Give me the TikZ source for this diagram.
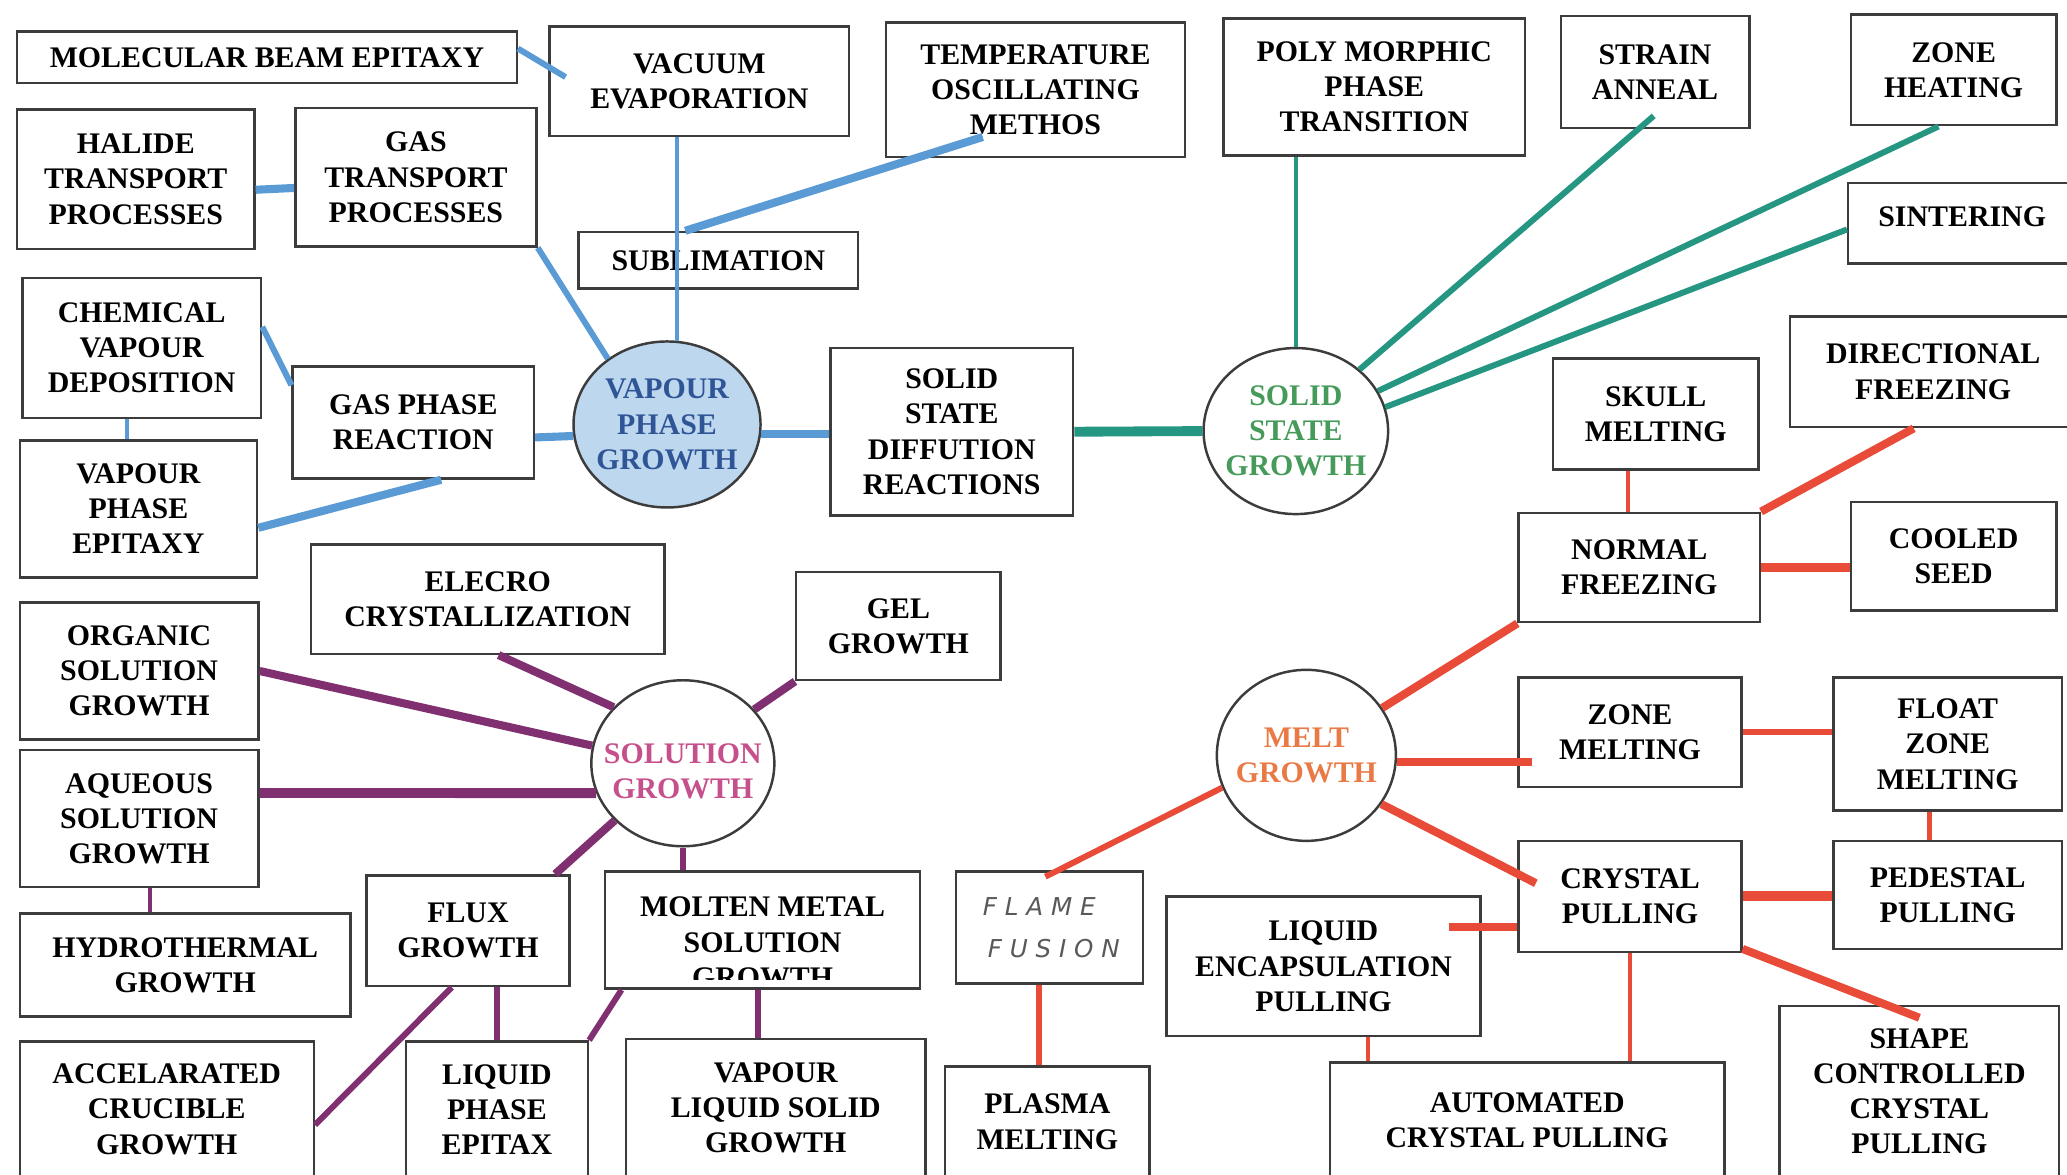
\documentclass[tikz,border=0pt]{standalone}
\usepackage{fontspec}
\setmainfont{Liberation Serif}
\newfontfamily\handfont{DejaVu Sans}
\usetikzlibrary{shapes.geometric,calc}

\definecolor{vapblue}{RGB}{91,155,213}
\definecolor{vapfill}{RGB}{189,215,238}
\definecolor{vaptext}{RGB}{47,85,151}
\definecolor{solidteal}{RGB}{36,150,130}
\definecolor{solidtext}{RGB}{70,155,90}
\definecolor{meltred}{RGB}{232,75,55}
\definecolor{melttext}{RGB}{233,122,69}
\definecolor{solnpurple}{RGB}{128,48,112}
\definecolor{solntext}{RGB}{197,80,140}
\definecolor{boxline}{RGB}{60,60,60}

\begin{document}
\begin{tikzpicture}[
                x=0.1318mm, y=-0.1318mm,
                every node/.style={font=\fontsize{8.5}{10}\selectfont\bfseries, align=center, inner sep=0pt},
                box/.style 2 args={draw=boxline, line width=0.7pt, minimum width=#1*0.1318mm, minimum height=#2*0.1318mm},
                hub/.style={ellipse, draw=boxline, line width=0.7pt},
                thinlink/.style={line width=1.2pt},
                medlink/.style={line width=1.7pt},
                boldlink/.style={line width=2.3pt},
                heavylink/.style={line width=2.8pt}
            ]
            \useasboundingbox (0,0) rectangle (1568,891);

            % vapour phase growth
            \node[box={379}{39}] (mbe) at (202.5,43.5) {MOLECULAR BEAM EPITAXY};
            \node[box={227}{83}] (vacevap) at (530.5,61.5) {VACUUM\\EVAPORATION};
            \node[box={227}{102}] (temposc) at (785.5,68) {TEMPERATURE\\OSCILLATING\\METHOS};
            \node[box={180}{106}] (halide) at (103,136) {HALIDE\\TRANSPORT\\PROCESSES};
            \node[box={183}{105}] (gastrans) at (315.5,134.5) {GAS\\TRANSPORT\\PROCESSES};
            \node[box={212}{43}] (sublim) at (545,197.5) {SUBLIMATION};
            \node[box={181}{106}] (cvd) at (107.5,264) {CHEMICAL\\VAPOUR\\DEPOSITION};
            \node[box={183}{85}] (gasphase) at (313.5,320.5) {GAS PHASE\\REACTION};
            \node[box={180}{104}] (vpe) at (105,386) {VAPOUR\\PHASE\\EPITAXY};
            \node[hub, fill=vapfill, minimum width=18.7mm, minimum height=16.6mm] (vpg) at (506,322) {};
            \node[text=vaptext] (vpgtext) at (vpg) {VAPOUR\\PHASE\\GROWTH};

            % solid state growth
            \node[box={184}{127}] (ssdr) at (722,327.5) {SOLID\\STATE\\DIFFUTION\\REACTIONS};
            \node[hub, minimum width=18.45mm, minimum height=16.6mm] (ssg) at (983,327) {};
            \node[text=solidtext] (ssgtext) at (ssg) {SOLID\\STATE\\GROWTH};
            \node[box={229}{104}] (poly) at (1042.5,66) {POLY MORPHIC\\PHASE\\TRANSITION};
            \node[box={143}{85}] (strain) at (1255.5,54.5) {STRAIN\\ANNEAL};
            \node[box={156}{84}] (zoneheat) at (1482,53) {ZONE\\HEATING};
            \node[box={173}{61}, text depth=3.8pt] (sinter) at (1488.5,169.5) {SINTERING};

            % melt growth
            \node[box={217}{84}] (dirfreeze) at (1466.5,282) {DIRECTIONAL\\FREEZING};
            \node[box={156}{84}] (skull) at (1256,314) {SKULL\\MELTING};
            \node[box={183}{83}] (normfreeze) at (1243.5,430.5) {NORMAL\\FREEZING};
            \node[box={156}{82}] (cooled) at (1482,422) {COOLED\\SEED};
            \node[hub, minimum width=17.9mm, minimum height=17.1mm] (mg) at (991,573) {};
            \node[text=melttext] (mgtext) at (mg) {MELT\\GROWTH};
            \node[box={169}{83}] (zonemelt) at (1236.5,555.5) {ZONE\\MELTING};
            \node[box={173}{101}] (floatzone) at (1477.5,564.5) {FLOAT\\ZONE\\MELTING};
            \node[box={169}{84}] (crystpull) at (1236.5,680) {CRYSTAL\\PULLING};
            \node[box={173}{82}] (pedestal) at (1477.5,679) {PEDESTAL\\PULLING};
            \node[box={142}{85}, font=\handfont\itshape\fontsize{7}{12}\selectfont, text=black!65] (flame) at (796,703.5)
                {F L A M E\hspace*{2mm}\\\hspace*{0.9mm}F U S I O N};
            \node[box={238}{106}] (lep) at (1004,733) {LIQUID\\ENCAPSULATION\\PULLING};
            \node[box={155}{84}] (plasma) at (794.5,851) {PLASMA\\MELTING};
            \node[box={299}{87}] (autocp) at (1158.5,849.5) {AUTOMATED\\CRYSTAL PULLING};
            \node[box={212}{130}] (shapecp) at (1456,828) {SHAPE\\CONTROLLED\\CRYSTAL\\PULLING};

            % solution growth
            \node[box={268}{83}] (electro) at (370,454.5) {ELECRO\\CRYSTALLIZATION};
            \node[box={155}{82}] (gel) at (681.5,475) {GEL\\GROWTH};
            \node[box={181}{104}] (organic) at (105.5,509) {ORGANIC\\SOLUTION\\GROWTH};
            \node[hub, minimum width=18.3mm, minimum height=16.6mm] (sg) at (518,579) {};
            \node[text=solntext] (sgtext) at (518,585) {SOLUTION\\GROWTH};
            \node[box={181}{104}] (aqueous) at (105.5,621) {AQUEOUS\\SOLUTION\\GROWTH};
            \node[box={251}{78}] (hydro) at (140.5,732) {HYDROTHERMAL\\GROWTH};
            \node[box={154}{84}] (flux) at (355,706) {FLUX\\GROWTH};
            \node[box={239}{89}] (molten) at (578.5,705.5) {};
            \begin{scope}
                \clip (molten.north west) rectangle ($(molten.south east)+(0,-8)$);
                \node[anchor=north] (moltentext) at ($(molten.north)+(0,20)$) {MOLTEN METAL\\SOLUTION\\GROWTH};
            \end{scope}
            \node[box={223}{103}] (accel) at (126.5,841.5) {ACCELARATED\\CRUCIBLE\\GROWTH};
            \node[box={138}{103}] (lpe) at (377,841.5) {LIQUID\\PHASE\\EPITAX};
            \node[box={227}{105}] (vls) at (588.5,840.5) {VAPOUR\\LIQUID SOLID\\GROWTH};

            % vapour phase links
            \draw[vapblue, medlink] (mbe.2) -- ($(vacevap.west)+(13,-3)$);
            \draw[vapblue, thinlink] (vpg.83) -- (vpg.83 |- vacevap.south);
            \draw[vapblue, boldlink] ($(sublim.north -| vpg.83)+(6,0)$) -- ($(temposc.south)+(-40,-16)$);
            \draw[vapblue, boldlink] (halide.-5) -- (gastrans.185);
            \draw[vapblue, medlink] (gastrans.south east) -- (vpg.132);
            \draw[vapblue, medlink] (cvd.10) -- (gasphase.163);
            \draw[vapblue, thinlink] (vpe.99) -- (vpe.99 |- cvd.south);
            \draw[vapblue, boldlink] (gasphase.-7) -- (vpg.187);
            \draw[vapblue, boldlink] (vpe.-9) -- (gasphase.-64);
            \draw[vapblue, boldlink] (vpg.-6) -- (vpg.-6 -| ssdr.west);

            % solid state links
            \draw[solidteal, heavylink] (ssdr.east) -- (ssg.west);
            \draw[solidteal, thinlink] (ssg.north) -- (ssg.north |- poly.south);
            \draw[solidteal, medlink] (ssg.44) -- ($(strain.south)+(-1,-10)$);
            \draw[solidteal, medlink] (ssg.26) -- (zoneheat.255);
            \draw[solidteal, medlink] (ssg.15) -- (sinter.183);

            % melt links
            \draw[meltred, thinlink] (normfreeze.101) -- (normfreeze.101 |- skull.south);
            \draw[meltred, boldlink] (dirfreeze.251) -- (normfreeze.north east);
            \draw[meltred, heavylink] (normfreeze.east) -- (normfreeze.east -| cooled.west);
            \draw[meltred, boldlink] (mg.32) -- (normfreeze.south west);
            \draw[meltred, boldlink] (mg.-4) -- ($(mg.-4 -| zonemelt.west)+(11,0)$);
            \draw[meltred, medlink] (zonemelt.east) -- (zonemelt.east -| floatzone.west);
            \draw[meltred, thinlink] (floatzone.-105) -- (floatzone.-105 |- pedestal.north);
            \draw[meltred, boldlink] (mg.-33) -- ($(crystpull.west)+(14,-10)$);
            \draw[meltred, heavylink] (crystpull.east) -- (crystpull.east -| pedestal.west);
            \draw[meltred, boldlink] (crystpull.195) -- ($(crystpull.195 -| lep.east)+(-25,0)$);
            \draw[meltred, boldlink] (crystpull.-25) -- ($(shapecp.north)+(0,10)$);
            \draw[meltred, thinlink] (crystpull.south) -- (crystpull.south |- autocp.north);
            \draw[meltred, thinlink] (lep.-58) -- (lep.-58 |- autocp.north);
            \draw[meltred, medlink] (mg.201) -- ($(flame.north)+(-3,5)$);
            \draw[meltred, medlink] (flame.-100) -- (flame.-100 |- plasma.north);

            % solution links
            \draw[solnpurple, boldlink] (organic.east) -- (sg.169);
            \draw[solnpurple, boldlink] (electro.-79) -- (sg.141);
            \draw[solnpurple, boldlink] (gel.south west) -- (sg.37);
            \draw[solnpurple, heavylink] (aqueous.12) -- (sg.199);
            \draw[solnpurple, thinlink] (aqueous.-81) -- (aqueous.-81 |- hydro.north);
            \draw[solnpurple, boldlink] (sg.220) -- (flux.33);
            \draw[solnpurple, medlink] (sg.south) -- (sg.south |- molten.north);
            \draw[solnpurple, medlink] (flux.-106) -- (accel.-6);
            \draw[solnpurple, medlink] (lpe.north) -- (lpe.north |- flux.south);
            \draw[solnpurple, medlink] (molten.203) -- (lpe.north east);
            \draw[solnpurple, medlink] (molten.-94) -- (molten.-94 |- vls.north);

        \end{tikzpicture}
\end{document}
